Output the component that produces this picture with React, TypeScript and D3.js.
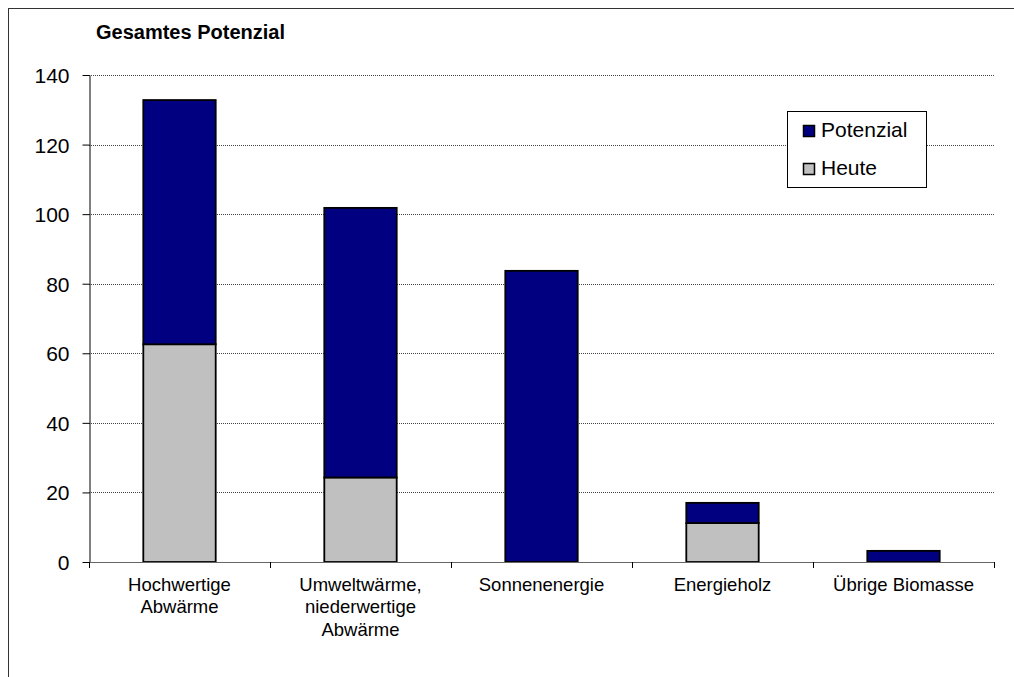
import React, { useEffect, useRef } from 'react';
import * as d3 from 'd3';

const categories = [
    'Hochwertige\nAbwärme',
    'Umweltwärme,\nniederwertige\nAbwärme',
    'Sonnenenergie',
    'Energieholz',
    'Übrige Biomasse',
];
const heute = [62.6, 24.3, 0, 11.2, 0];
const potenzial = [70.2, 77.5, 83.7, 5.8, 3.2];
const yTicks = [0, 20, 40, 60, 80, 100, 120, 140];
const seriesNames = ['Potenzial', 'Heute'];
const seriesColors = ['#000080', '#C0C0C0'];

const W = 1014;
const H = 677;

const App: React.FC = () => {
    const svgRef = useRef<SVGSVGElement | null>(null);

    useEffect(() => {
        if (!svgRef.current) return;
        const svg = d3.select(svgRef.current);
        svg.selectAll('*').remove();

        const left = 89, right = 994, top = 75, bottom = 562;
        const font = 'Arial, "Liberation Sans", sans-serif';

        const x = d3.scaleBand<string>()
            .domain(categories)
            .range([left, right])
            .paddingInner(0.6)
            .paddingOuter(0.3);
        const step = x.step();

        const y = d3.scaleLinear().domain([0, 140]).range([bottom, top]);

        // outer chart frame
        svg.append('rect')
            .attr('x', 8.5).attr('y', 8.5)
            .attr('width', W + 20).attr('height', H + 20)
            .attr('fill', 'white')
            .attr('stroke', '#333')
            .attr('stroke-width', 1);

        svg.append('text')
            .attr('x', 96).attr('y', 39)
            .attr('font-family', font)
            .attr('font-size', 20)
            .attr('font-weight', 'bold')
            .text('Gesamtes Potenzial');

        // dotted grid lines
        svg.append('g')
            .selectAll('line')
            .data(yTicks.filter((t) => t > 0))
            .enter()
            .append('line')
            .attr('x1', left).attr('x2', right)
            .attr('y1', (d) => Math.round(y(d)) + 0.5)
            .attr('y2', (d) => Math.round(y(d)) + 0.5)
            .attr('stroke', '#444')
            .attr('stroke-width', 1)
            .attr('stroke-dasharray', '1,1');

        // y axis
        const yAxis = svg.append('g')
            .attr('transform', `translate(${left + 0.5},0)`)
            .call(d3.axisLeft(y).tickValues(yTicks).tickSize(7).tickSizeOuter(0).tickPadding(13));
        yAxis.select('.domain').attr('stroke', '#000');
        yAxis.selectAll('.tick line').attr('stroke', '#000');
        yAxis.selectAll('.tick text')
            .attr('font-family', font)
            .attr('font-size', 21)
            .attr('fill', '#000')
            .attr('dy', '0.36em');

        // bars
        const stack = categories.map((c, i) => ({ c, h: heute[i], p: potenzial[i] }));
        const bw = x.bandwidth();

        svg.append('g')
            .selectAll('rect')
            .data(stack.filter((d) => d.h > 0))
            .enter()
            .append('rect')
            .attr('x', (d) => x(d.c) as number)
            .attr('y', (d) => y(d.h))
            .attr('width', bw)
            .attr('height', (d) => y(0) - y(d.h))
            .attr('fill', seriesColors[1])
            .attr('stroke', '#000')
            .attr('stroke-width', 1.8);

        svg.append('g')
            .selectAll('rect')
            .data(stack)
            .enter()
            .append('rect')
            .attr('x', (d) => x(d.c) as number)
            .attr('y', (d) => y(d.h + d.p))
            .attr('width', bw)
            .attr('height', (d) => y(d.h) - y(d.h + d.p))
            .attr('fill', seriesColors[0])
            .attr('stroke', '#000')
            .attr('stroke-width', 1.8);

        // x axis line and ticks at category boundaries
        const xAxis = svg.append('g');
        xAxis.append('line')
            .attr('x1', left).attr('x2', right)
            .attr('y1', bottom + 0.5).attr('y2', bottom + 0.5)
            .attr('stroke', '#666');
        const bounds = categories.map((c) => (x(c) as number) - step * 0.3).concat([right]);
        xAxis.selectAll('line.tick')
            .data(bounds)
            .enter()
            .append('line')
            .attr('class', 'tick')
            .attr('x1', (d) => Math.round(d) + 0.5)
            .attr('x2', (d) => Math.round(d) + 0.5)
            .attr('y1', bottom)
            .attr('y2', bottom + 6)
            .attr('stroke', '#000');

        const labels = xAxis.selectAll('text')
            .data(categories)
            .enter()
            .append('text')
            .attr('text-anchor', 'middle')
            .attr('font-family', font)
            .attr('font-size', 18.5)
            .attr('fill', '#000');
        labels.each(function (d) {
            const t = d3.select(this);
            d.split('\n').forEach((line, i) => {
                t.append('tspan')
                    .attr('x', (x(d) as number) + bw / 2)
                    .attr('y', 591 + i * 22.3)
                    .text(line);
            });
        });

        // legend
        const legend = svg.append('g');
        legend.append('rect')
            .attr('x', 787.5).attr('y', 111.5)
            .attr('width', 139).attr('height', 76)
            .attr('fill', 'white')
            .attr('stroke', '#000');
        seriesNames.forEach((name, i) => {
            const cy = 131 + i * 38;
            legend.append('rect')
                .attr('x', 803.5).attr('y', cy - 5.5)
                .attr('width', 11).attr('height', 11)
                .attr('fill', seriesColors[i])
                .attr('stroke', '#000')
                .attr('stroke-width', 1.5);
            legend.append('text')
                .attr('x', 821).attr('y', cy + 6)
                .attr('font-family', font)
                .attr('font-size', 21)
                .text(name);
        });
    }, []);

    return (
        <div style={{ position: 'absolute', left: 0, top: 0 }}>
            <svg ref={svgRef} width={W} height={H} style={{ display: 'block' }}></svg>
        </div>
    );
};

export default App;
